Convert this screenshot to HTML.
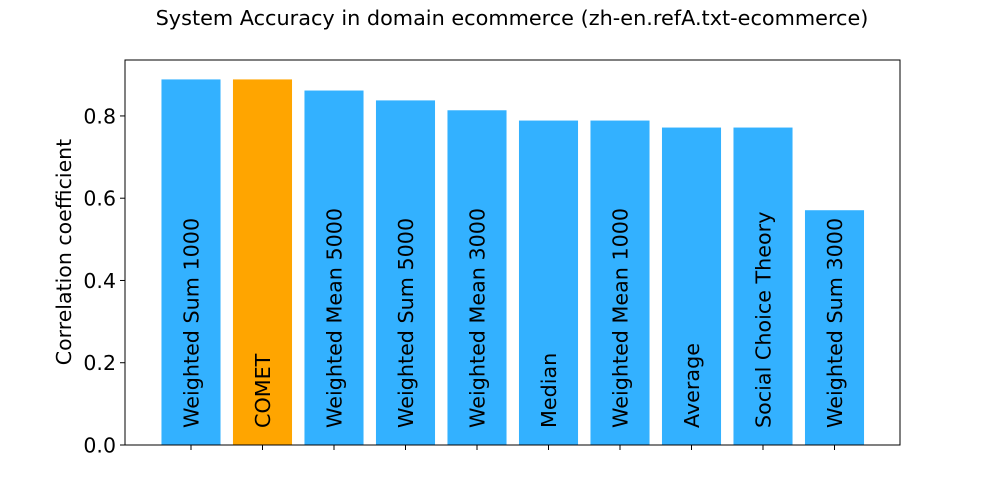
<!DOCTYPE html>
<html><head><meta charset="utf-8"><style>
html,body{margin:0;padding:0;background:#fff;}
svg{display:block;font-family:"DejaVu Sans","Liberation Sans",sans-serif;}
</style></head><body>
<svg id="chart" width="1000" height="500">
<text x="512" y="25" text-anchor="middle" font-size="20.8">System Accuracy in domain ecommerce (zh-en.refA.txt-ecommerce)</text>
<text transform="translate(71,252) rotate(-90)" text-anchor="middle" font-size="20.5">Correlation coefficient</text>
<g id="bars"></g>
<g id="yticks"></g>
<g id="xticks"></g>
<rect x="125" y="60" width="775" height="385" fill="none" stroke="#000" stroke-width="1"/>
</svg>
<script>
const categories = ["Weighted Sum 1000","COMET","Weighted Mean 5000","Weighted Sum 5000","Weighted Mean 3000","Median","Weighted Mean 1000","Average","Social Choice Theory","Weighted Sum 3000"];
const values = [0.890,0.890,0.863,0.839,0.815,0.790,0.790,0.773,0.773,0.572];
const highlight = ["COMET"];
const yTicks = [0.0,0.2,0.4,0.6,0.8];
const yTickLabels = ["0.0","0.2","0.4","0.6","0.8"];

const L=125,R=900,T=60,B=445;
const yMax=0.936;
const xMin=-0.923,xMax=9.916;
const x=i=>L+(i-xMin)/(xMax-xMin)*(R-L);
const y=v=>B-v/yMax*(B-T);
const unit=(R-L)/(xMax-xMin);
const ns="http://www.w3.org/2000/svg";
const bars=document.getElementById('bars');
categories.forEach((c,i)=>{
  const w=0.84*unit;
  const r=document.createElementNS(ns,'rect');
  r.setAttribute('x',x(i)-w/2);r.setAttribute('y',y(values[i]));
  r.setAttribute('width',w);r.setAttribute('height',y(0)-y(values[i]));
  r.setAttribute('fill',highlight.includes(c)?'#ffa500':'#33b1ff');
  r.setAttribute('stroke','#fff');r.setAttribute('stroke-width','1');
  
  
  bars.appendChild(r);
  const t=document.createElementNS(ns,'text');
  t.setAttribute('transform',`translate(${x(i)+7.5},428) rotate(-90)`);
  t.setAttribute('font-size','20.7');t.textContent=c;
  
  
  bars.appendChild(t);
  const tk=document.createElementNS(ns,'line');
  tk.setAttribute('x1',x(i));tk.setAttribute('x2',x(i));tk.setAttribute('y1',B);tk.setAttribute('y2',B+5);
  tk.setAttribute('stroke','#000');
  
  
  document.getElementById('xticks').appendChild(tk);
});
const yt=document.getElementById('yticks');
yTicks.forEach((v,i)=>{
  const l=document.createElementNS(ns,'line');
  l.setAttribute('x1',L-5);l.setAttribute('x2',L);l.setAttribute('y1',y(v));l.setAttribute('y2',y(v));l.setAttribute('stroke','#000');
  
  
  yt.appendChild(l);
  const t=document.createElementNS(ns,'text');
  t.setAttribute('x',L-9);t.setAttribute('y',y(v)+7.5);t.setAttribute('text-anchor','end');t.setAttribute('font-size','20.5');
  t.textContent=yTickLabels[i];
  
  
  yt.appendChild(t);
});
</script>
</body></html>
